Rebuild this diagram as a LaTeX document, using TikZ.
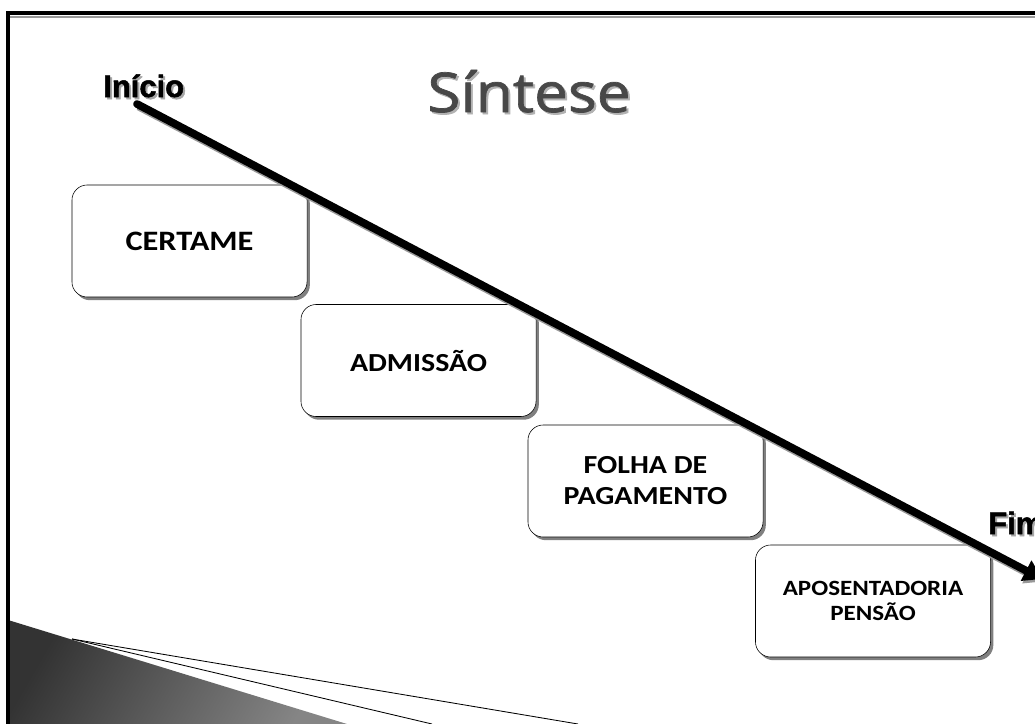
\documentclass[tikz,border=0pt]{standalone}
\usepackage{fontspec}
\setmainfont{Carlito}[FakeStretch=1.15]
\newfontfamily\titlefont{Open Sans}[FakeStretch=1.1, FakeBold=1.3]
\newfontfamily\endfont{Liberation Sans}[FakeBold=1.6]
\usetikzlibrary{shadows,arrows.meta}

\definecolor{titlegray}{HTML}{484848}
\definecolor{wedgedark}{HTML}{333333}
\definecolor{wedgelight}{HTML}{858585}

\tikzset{
    stage/.style={draw, rounded corners=0.38cm, fill=white, thin,
        minimum width=5.875cm, minimum height=2.8cm, align=center,
        font=\bfseries, inner sep=0pt,
        drop shadow={shadow xshift=0.07cm, shadow yshift=-0.08cm,
            fill=black!50, opacity=1}},
    endlabel/.style={font=\endfont\bfseries\fontsize{22}{25}\selectfont,
        anchor=base west, inner sep=0pt}
}

\begin{document}
\begin{tikzpicture}[x=0.025cm, y=-0.025cm]

    % Fix the page size
    \useasboundingbox (0,0) rectangle (1035,724);

    % Corner wedge at the bottom left
    \shade[left color=wedgedark, right color=wedgelight, shading angle=60]
        (8,620) -- (347,724) -- (8,724) -- cycle;
    \draw[line width=0.6pt] (72,639) -- (432,724);
    \draw[line width=0.6pt] (72,639) -- (578,724);

    % Slide frame
    \draw[black!40, line width=1.5pt] (10,17) -- (1035,17);
    \draw[line width=2.2pt] (8,724) -- (8,13) -- (1035,13);

    % Title
    \node[text=black!30, font=\titlefont\fontsize{39}{42}\selectfont, anchor=base]
        at (531,114) {Síntese};
    \node[text=titlegray, font=\titlefont\fontsize{39}{42}\selectfont, anchor=base]
        (title) at (529,112) {Síntese};

    % The four stages
    \node[stage, font=\bfseries\fontsize{20}{23}\selectfont] (certame) at (189.5,241) {CERTAME};
    \node[stage, font=\bfseries\fontsize{18.5}{21}\selectfont] (admissao) at (418.5,360.5) {ADMISSÃO};
    \node[stage, font=\bfseries\fontsize{18.5}{22}\selectfont] (folha) at (645.5,481) {FOLHA DE\\PAGAMENTO};
    \node[stage, font=\bfseries\fontsize{15.5}{18}\selectfont] (aposentadoria) at (873,601) {APOSENTADORIA\\PENSÃO};

    % Start and end labels
    \node[endlabel, text=black!35] at (105,99) {Início};
    \node[endlabel] (inicio) at (103,97) {Início};
    \node[endlabel, text=black!35] at (990,536) {Fim};
    \node[endlabel] (fim) at (988,534) {Fim};

    % The time arrow
    \coordinate (start) at (137,104);
    \coordinate (end) at (1042,579);
    \draw[black!40, line width=5.5pt, -{Triangle[length=0.45cm, width=0.55cm]}]
        ([shift={(1.5,2.5)}]start) -- ([shift={(1.5,2.5)}]end);
    \draw[line width=5.5pt, line cap=round, -{Triangle[length=0.45cm, width=0.55cm]}]
        (start) -- (end);

\end{tikzpicture}
\end{document}
